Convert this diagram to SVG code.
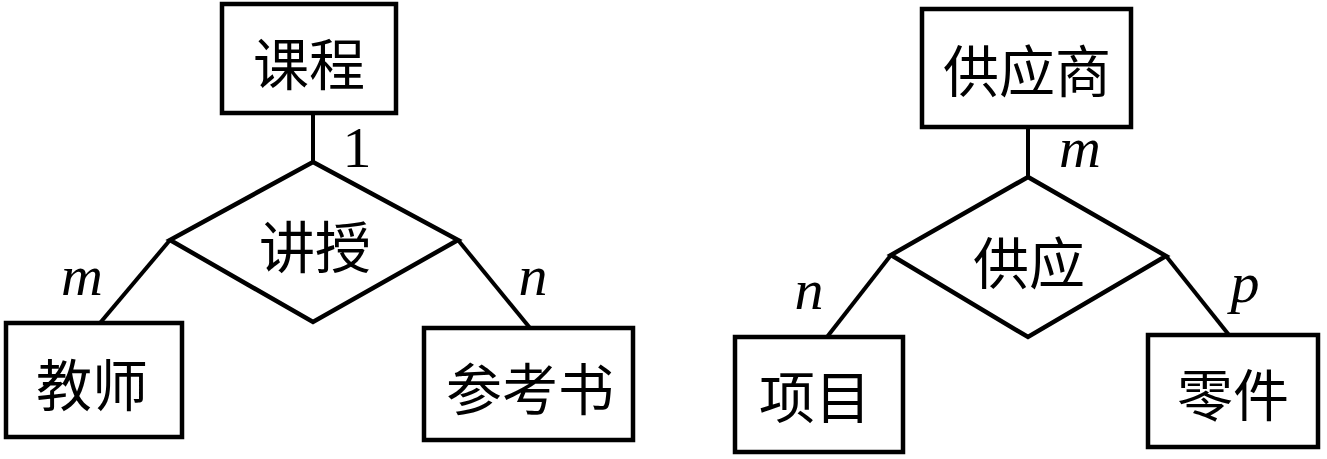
<svg xmlns="http://www.w3.org/2000/svg" width="1327" height="459" viewBox="0 0 1327 459">
<style>
.box{fill:#fff;stroke:#000;stroke-width:4.5}
.dia{fill:#fff;stroke:#000;stroke-width:4.5;stroke-linejoin:miter}
.ln{fill:none;stroke:#000;stroke-width:4}
.cn{font-family:"Noto Sans CJK SC","Noto Sans CJK JP",sans-serif;font-size:56px;fill:#000;text-anchor:middle;dominant-baseline:central}
.lab{font-family:"Liberation Serif",serif;font-size:58px;fill:#000;text-anchor:middle}
.it{font-style:italic}
</style>
<rect width="1327" height="459" fill="#fff"/>
<g id="connectors">
<line class="ln" x1="313" y1="113" x2="313" y2="162"/>
<line class="ln" x1="170" y1="240" x2="100" y2="323"/>
<line class="ln" x1="458" y1="240" x2="530" y2="328"/>
<line class="ln" x1="1028" y1="127" x2="1028" y2="177"/>
<line class="ln" x1="891" y1="255" x2="827" y2="337"/>
<line class="ln" x1="1166" y1="256" x2="1229" y2="335"/>
</g>
<g id="kecheng"><rect class="box" x="222" y="4" width="174" height="109"/><text class="cn" x="309" y="60">课程</text></g>
<g id="jiangshou"><polygon class="dia" points="313,162 458,240 313,322 170,240"/><text class="cn" x="315" y="243">讲授</text></g>
<g id="jiaoshi"><rect class="box" x="6" y="323" width="176" height="114"/><text class="cn" x="92" y="381">教师</text></g>
<g id="cankaoshu"><rect class="box" x="424" y="328" width="209" height="112"/><text class="cn" x="530" y="385">参考书</text></g>
<g id="gongyingshang"><rect class="box" x="922" y="9" width="209" height="118"/><text class="cn" x="1027" y="67">供应商</text></g>
<g id="gongying"><polygon class="dia" points="1028,177 1166,256 1028,337 891,255"/><text class="cn" x="1029" y="259">供应</text></g>
<g id="xiangmu"><rect class="box" x="735" y="337" width="168" height="115"/><text class="cn" x="815" y="393">项目</text></g>
<g id="lingjian"><rect class="box" x="1148" y="335" width="170" height="112"/><text class="cn" x="1233" y="391">零件</text></g>
<g id="labels">
<text class="lab" x="357" y="167">1</text>
<text class="lab it" x="82" y="295">m</text>
<text class="lab it" x="533" y="295">n</text>
<text class="lab it" x="1080" y="167">m</text>
<text class="lab it" x="809" y="309">n</text>
<text class="lab it" x="1245" y="302">p</text>
</g>
</svg>
